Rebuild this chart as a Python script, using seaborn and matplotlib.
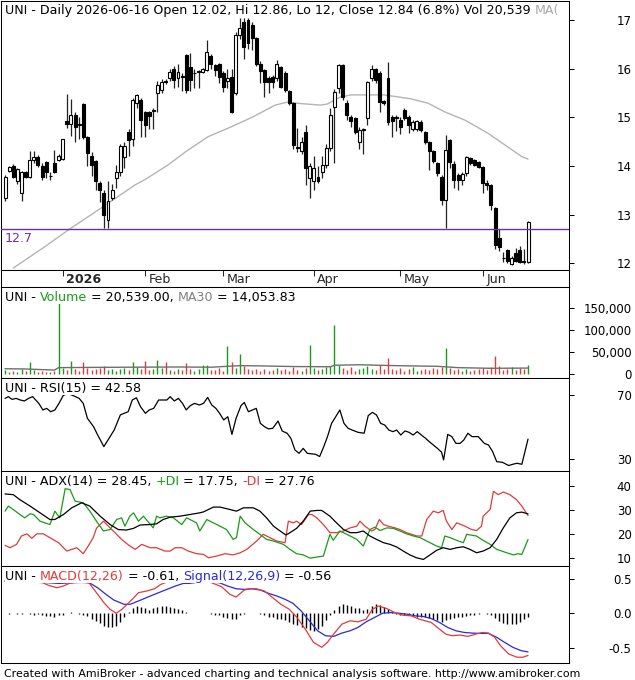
import numpy as np
import pandas as pd
import seaborn as sns
import matplotlib
matplotlib.use("Agg")
import matplotlib.pyplot as plt
from matplotlib import transforms

# trading days shown (Dec 2025 - Jun 2026), exchange holidays removed
dates = pd.bdate_range("2025-12-11", "2026-06-16")
holidays = pd.to_datetime(["2025-12-25", "2026-01-01", "2026-01-19",
                           "2026-02-16", "2026-04-03", "2026-05-25"])
dates = dates[~dates.isin(holidays)]

# daily OHLC
opens = [13.34, 13.90, 14.00, 13.68, 13.45, 13.88, 13.78, 14.12, 14.19, 14.00,
         14.08, 13.79, 14.05, 14.12, 14.15, 14.92, 14.86, 15.05, 14.86, 15.28,
         14.60, 14.20, 14.10, 13.65, 13.44, 12.89, 13.33, 13.75, 13.88, 14.19,
         14.70, 14.55, 15.30, 15.35, 15.10, 15.10, 15.13, 15.49, 15.56, 15.75,
         15.80, 16.00, 15.80, 15.85, 16.27, 16.04, 15.90, 15.93, 15.93, 15.98,
         16.25, 16.07, 16.10, 15.90, 15.74, 15.83, 15.50, 16.70, 16.95, 17.00,
         16.90, 16.62, 16.10, 15.97, 15.80, 15.83, 15.80, 16.03, 15.90, 15.54,
         15.29, 14.38, 14.30, 14.70, 13.75, 13.68, 13.78, 13.88, 14.02, 14.36,
         15.22, 15.60, 16.07, 15.30, 15.00, 14.98, 14.50, 14.74, 14.98, 15.80,
         16.00, 15.90, 15.33, 15.80, 15.00, 15.00, 14.95, 15.15, 15.00, 14.75,
         14.75, 14.90, 14.70, 14.50, 14.30, 14.05, 13.78, 13.30, 14.53, 14.04,
         13.82, 13.70, 13.85, 14.16, 14.12, 14.08, 13.98, 13.64, 13.60, 13.13,
         12.52, 12.11, 12.28, 11.98, 12.20, 12.28, 12.05, 12.02]
highs = [13.81, 14.00, 14.03, 13.96, 13.90, 13.90, 14.30, 14.30, 14.22, 14.05,
         14.10, 13.88, 14.33, 14.25, 14.56, 15.47, 15.38, 15.10, 15.00, 15.30,
         14.62, 14.28, 14.12, 13.68, 13.50, 13.68, 13.62, 14.02, 14.45, 14.50,
         14.75, 15.40, 15.47, 15.40, 15.12, 15.12, 15.20, 15.75, 15.78, 15.78,
         16.00, 16.05, 16.10, 15.90, 16.30, 16.33, 16.00, 15.98, 16.02, 16.59,
         16.30, 16.10, 16.12, 15.95, 16.00, 16.00, 16.75, 17.05, 17.05, 17.05,
         16.95, 16.65, 16.15, 16.00, 15.85, 15.86, 16.17, 16.05, 15.95, 15.57,
         15.32, 14.78, 14.60, 14.85, 14.05, 14.20, 14.00, 14.20, 14.45, 15.20,
         15.58, 16.10, 16.10, 15.35, 15.05, 15.00, 14.80, 14.78, 15.75, 16.08,
         16.02, 15.95, 15.35, 16.14, 15.05, 15.05, 15.00, 15.20, 15.05, 14.95,
         14.95, 14.95, 14.72, 14.52, 14.32, 14.08, 13.82, 14.64, 14.56, 14.10,
         13.85, 13.88, 14.20, 14.18, 14.15, 14.10, 14.00, 13.70, 13.62, 13.15,
         12.70, 12.22, 12.30, 12.15, 12.32, 12.35, 12.30, 12.86]
lows = [13.27, 13.88, 13.76, 13.62, 13.27, 13.75, 13.75, 14.05, 13.98, 13.72,
        13.75, 13.72, 13.85, 14.10, 14.12, 14.77, 14.62, 14.50, 14.55, 14.55,
        14.00, 13.80, 13.50, 13.26, 12.72, 12.72, 13.30, 13.55, 13.80, 13.95,
        14.20, 14.40, 15.20, 14.60, 14.60, 14.75, 14.75, 15.10, 15.50, 15.68,
        15.75, 15.60, 15.62, 15.55, 15.50, 15.55, 15.60, 15.60, 15.90, 15.95,
        16.00, 15.85, 15.70, 15.52, 15.60, 15.08, 15.45, 16.60, 16.20, 16.40,
        16.38, 16.05, 15.70, 15.42, 15.50, 15.60, 15.75, 15.60, 15.52, 15.25,
        14.35, 14.28, 14.25, 13.60, 13.33, 13.50, 13.65, 13.75, 13.95, 14.30,
        14.05, 15.50, 15.35, 14.95, 14.80, 14.65, 14.35, 14.25, 14.85, 15.75,
        15.70, 15.10, 15.25, 14.85, 14.60, 14.72, 14.65, 14.95, 14.68, 14.72,
        14.72, 14.70, 14.45, 13.92, 14.05, 13.80, 13.20, 12.72, 13.95, 13.55,
        13.50, 13.60, 13.80, 14.02, 14.00, 13.95, 13.44, 13.50, 13.10, 12.30,
        12.25, 12.02, 12.00, 11.96, 12.02, 12.00, 11.99, 12.00]
closes = [13.78, 13.98, 13.78, 13.94, 13.88, 13.78, 14.12, 14.19, 14.02, 13.78,
          13.88, 13.80, 13.88, 14.20, 14.55, 14.86, 15.05, 14.80, 14.85, 14.60,
          14.26, 14.02, 13.68, 13.50, 12.99, 13.27, 13.50, 13.88, 14.40, 14.40,
          14.53, 15.35, 15.46, 14.95, 14.84, 15.02, 15.15, 15.66, 15.73, 15.72,
          15.94, 15.77, 15.94, 15.83, 15.56, 15.77, 15.92, 15.94, 16.00, 16.35,
          16.10, 15.98, 15.83, 15.63, 15.80, 15.10, 16.70, 16.83, 16.45, 16.52,
          16.62, 16.10, 15.95, 15.73, 15.73, 15.72, 16.10, 15.63, 15.56, 15.29,
          14.43, 14.36, 14.50, 13.95, 13.99, 13.95, 13.68, 14.02, 14.36, 15.05,
          15.52, 16.07, 15.42, 15.05, 14.92, 14.70, 14.74, 14.75, 15.72, 16.00,
          15.77, 15.32, 15.30, 14.91, 14.92, 14.98, 14.80, 14.98, 14.85, 14.90,
          14.92, 14.74, 14.50, 14.30, 14.10, 13.85, 13.30, 14.33, 14.09, 13.72,
          13.72, 13.83, 14.18, 14.06, 14.02, 13.98, 13.64, 13.60, 13.20, 12.38,
          12.34, 12.10, 12.04, 12.10, 12.04, 12.03, 12.02, 12.84]

# gray moving average on the price pane (bar position, value)
ma_x = [2, 9, 16, 21, 25.5, 31.6, 34, 39.6, 44, 49.3, 55.1, 60, 65.6, 68.5, 72,
        76.5, 78.2, 81.3, 84, 92, 98.5, 102.7, 106.8, 111.7, 117.3, 121.4, 125.5, 127]
ma_v = [11.9, 12.3, 12.72, 13.0, 13.26, 13.61, 13.72, 14.02, 14.3, 14.6, 14.81, 15.0,
        15.25, 15.31, 15.28, 15.25, 15.27, 15.41, 15.46, 15.46, 15.38, 15.29, 15.11,
        14.94, 14.67, 14.43, 14.19, 14.14]
support = 12.7

# volume, thousands of shares
volume_k = [9, 6, 8, 5, 12, 7, 28, 9, 6, 8, 5, 4, 8,
            165,
            14, 10, 30, 12, 8, 27, 15, 9, 12, 14, 18, 10, 13, 8, 11, 15, 9, 28, 16,
            12, 30, 9, 11, 32, 14, 27, 10, 8, 12, 9, 26, 11, 7, 13, 22, 22, 9, 10, 14, 8,
            65, 28, 15, 47, 18, 12, 9,
            11, 8, 13, 7, 10, 15, 9, 12, 8, 16, 10, 7, 14,
            67,
            14, 9, 12, 16, 19,
            112,
            20, 14, 10, 16, 8, 12, 15, 18, 13, 9, 20, 11,
            38,
            12, 9, 15, 8, 11, 17, 7, 10, 13, 9, 14, 12, 16,
            60,
            14, 9, 11, 7, 13, 8, 10, 12, 15, 9, 16,
            42,
            18, 10, 12, 17, 9, 15, 13,
            20.539]
vma_x = [0, 5, 9, 12, 13, 20, 30, 42, 50, 54, 57, 62, 70, 79, 80, 86, 95, 105, 110, 118, 127]
vma_v = [12500, 12000, 10500, 9500, 15000, 15500, 16000, 16500, 16000, 18000, 19500,
         19000, 17500, 17000, 20500, 21500, 19500, 18000, 15000, 13500, 14054]

# RSI(15)
rsi_x = [0, 0.8, 1.7, 2.7, 3.7, 4.7, 5.7, 6.7, 8.2, 9.2,
         10.1, 11.1, 12.1, 13.1, 14.1, 15.1, 16.6, 18.0, 19.0, 20.0,
         21.5, 22.5, 24.0, 25.0, 26.5, 28.0, 28.9, 29.9, 30.9, 31.9,
         32.9, 34.1, 35.0, 36.1, 37.3, 39.3, 40.1, 41.1, 42.1, 43.1,
         44.0, 45.0, 46.0, 47.2, 48.2, 49.2, 50.2, 51.2, 52.1, 53.1,
         54.1, 55.1, 56.1, 57.3, 58.1, 59.1, 61.0, 62.0, 63.0, 64.0,
         65.0, 66.3, 67.3, 68.5, 69.4, 70.4, 71.4, 72.4, 73.4, 75.4,
         76.4, 77.4, 78.3, 79.3, 80.3, 81.3, 82.3, 83.3, 84.3, 85.7,
         87.2, 88.2, 89.2, 90.2, 91.2, 92.2, 93.2, 94.2, 95.1, 96.1,
         97.1, 98.1, 99.1, 100.1, 101.1, 102.1, 103.0, 104.0, 105.0, 106.0,
         106.5, 107.5, 108.5, 109.5, 110.5, 111.4, 112.4, 113.4, 114.9, 116.4,
         117.4, 118.4, 119.4, 120.8, 122.3, 123.3, 124.3, 125.5, 127]
rsi_v = [67.9, 69.0, 67.3, 67.9, 66.9, 66.3, 67.9, 69.0, 64.8, 60.7,
         61.7, 59.6, 60.7, 64.8, 69.6, 71.0, 69.6, 67.9, 64.8, 55.5,
         50.3, 45.1, 37.9, 42.0, 48.2, 57.6, 58.6, 59.6, 66.9, 68.3,
         62.7, 58.6, 60.7, 61.7, 66.9, 66.9, 69.0, 66.3, 67.9, 64.8,
         60.7, 63.4, 64.8, 63.8, 64.8, 68.5, 63.8, 61.7, 58.6, 54.5,
         56.5, 45.5, 55.5, 63.4, 65.4, 59.6, 61.7, 52.4, 50.3, 48.9,
         49.3, 53.8, 47.6, 46.2, 43.1, 35.8, 33.7, 36.8, 33.7, 33.1,
         31.7, 37.9, 44.1, 52.4, 56.5, 60.7, 52.4, 49.3, 48.2, 46.8,
         46.2, 57.2, 59.2, 57.6, 52.4, 51.3, 48.2, 47.2, 48.2, 45.1,
         47.6, 46.8, 45.1, 47.2, 45.1, 43.1, 41.0, 38.9, 36.8, 34.4,
         29.6, 45.5, 44.1, 39.9, 39.9, 42.0, 46.2, 44.1, 44.1, 39.9,
         38.9, 34.8, 28.5, 28.1, 26.1, 26.9, 27.5, 26.9, 42.58]

# ADX(14), +DI, -DI
adx_x = [0, 2.0, 3.6, 6.1, 8.5, 10.9, 12.1, 14.2, 16.2, 18.6,
         20.6, 23.1, 25.5, 27.5, 29.5, 31.2, 32.8, 35.2, 36.8, 38.4,
         40.1, 42.5, 44.9, 47.3, 48.2, 50.6, 52.2, 54.6, 56.2, 57.9,
         60.3, 61.9, 63.5, 65.2, 66.8, 68.2, 69.2, 70.8, 72.4, 74.1,
         75.7, 76.9, 78.9, 80.5, 82.2, 83.8, 85.4, 87.0, 88.6, 90.2,
         91.9, 93.5, 95.1, 96.7, 98.3, 99.9, 101.6, 103.2, 104.8, 106.4,
         108.1, 109.7, 111.3, 112.9, 114.5, 116.1, 117.8, 119.4, 121.0, 122.6,
         124.2, 125.5, 127]
adx_v = [36.8, 36.5, 34.4, 31.7, 28.9, 26.1, 26.1, 28.2, 31.0, 33.1,
         31.7, 27.5, 24.0, 21.9, 21.7, 22.4, 23.8, 24.0, 24.3, 26.1,
         27.1, 27.5, 28.2, 28.9, 29.3, 31.3, 31.3, 30.3, 29.6, 31.0,
         31.0, 29.6, 26.8, 23.3, 21.3, 19.6, 20.6, 22.4, 25.4, 29.6,
         29.9, 29.9, 27.5, 24.7, 21.9, 20.6, 20.6, 21.3, 19.2, 17.8,
         16.4, 15.7, 14.6, 12.9, 11.3, 10.1, 9.4, 11.3, 13.2, 14.3,
         13.6, 14.3, 14.7, 13.6, 12.2, 12.9, 14.3, 17.8, 22.6, 26.8,
         28.9, 29.2, 28.45]
pdi_x = [0, 0.8, 2.0, 3.6, 4.8, 6.1, 6.9, 8.5, 10.9, 12.1,
         13.3, 14.6, 15.8, 17.0, 19.0, 20.6, 22.2, 23.9, 25.5, 27.1,
         28.3, 29.1, 30.3, 31.2, 32.4, 33.6, 36.0, 36.8, 37.6, 39.2,
         40.9, 42.9, 44.1, 46.5, 47.3, 49.0, 50.6, 52.2, 53.8, 55.4,
         56.2, 57.1, 58.3, 60.3, 61.9, 63.5, 65.2, 67.6, 69.2, 70.8,
         72.4, 74.1, 75.7, 77.3, 78.9, 79.7, 81.3, 83.0, 85.4, 87.0,
         88.6, 89.8, 91.1, 92.7, 94.3, 95.9, 97.5, 99.2, 100.8, 102.4,
         104.8, 106.0, 106.8, 108.1, 110.1, 111.3, 112.1, 114.5, 115.7, 117.8,
         119.4, 121.8, 123.4, 124.6, 125.5, 127]
pdi_v = [29.6, 31.7, 30.3, 28.2, 26.8, 28.5, 28.2, 25.4, 24.0, 29.6,
         26.8, 39.0, 38.6, 33.8, 33.1, 29.6, 25.4, 21.3, 21.9, 26.1,
         26.8, 23.3, 27.5, 28.9, 25.4, 27.5, 22.6, 27.5, 26.8, 27.5,
         26.8, 24.0, 26.8, 24.7, 21.3, 26.1, 24.7, 23.3, 21.9, 17.8,
         18.5, 27.5, 24.7, 21.9, 19.9, 17.8, 17.1, 15.7, 13.6, 11.8,
         11.3, 9.9, 10.4, 10.8, 19.9, 17.4, 21.3, 19.9, 17.8, 15.0,
         21.9, 22.9, 21.5, 22.6, 22.4, 21.3, 20.1, 19.2, 18.5, 17.1,
         15.0, 14.3, 19.2, 18.5, 17.1, 16.4, 19.9, 19.2, 17.8, 15.7,
         13.6, 12.2, 11.3, 11.8, 11.5, 17.75]
mdi_x = [0, 1.2, 2.8, 4.0, 5.3, 6.5, 7.7, 9.3, 10.9, 13.0,
         15.0, 16.2, 17.4, 19.0, 20.2, 21.4, 22.2, 23.1, 23.9, 25.1,
         26.7, 28.3, 30.0, 31.6, 33.2, 35.2, 36.8, 38.8, 40.1, 41.3,
         42.9, 44.5, 46.5, 48.2, 49.4, 51.4, 53.4, 55.4, 57.1, 58.7,
         61.1, 62.7, 64.3, 66.0, 68.0, 68.8, 70.0, 70.8, 72.0, 73.7,
         74.5, 75.7, 77.3, 78.9, 80.5, 82.2, 83.8, 85.4, 86.2, 87.4,
         89.0, 89.8, 90.9, 91.9, 93.1, 94.7, 95.9, 97.5, 100.0, 101.2,
         102.4, 104.0, 105.2, 106.4, 107.2, 108.5, 109.7, 111.7, 113.3, 114.5,
         115.7, 116.1, 117.8, 118.6, 119.8, 121.0, 122.6, 124.2, 125.5, 127]
mdi_v = [15.3, 14.3, 15.7, 19.2, 20.1, 18.2, 20.1, 20.1, 18.5, 16.4,
         12.9, 13.6, 14.3, 11.8, 15.0, 18.5, 22.4, 24.0, 25.4, 23.3,
         20.6, 17.8, 15.4, 13.6, 15.7, 14.3, 14.3, 12.9, 12.9, 14.3,
         14.3, 12.9, 11.8, 11.5, 10.1, 10.8, 11.8, 11.3, 12.2, 13.6,
         17.1, 19.9, 18.5, 17.1, 16.4, 25.4, 24.7, 25.4, 24.0, 28.2,
         28.2, 26.8, 24.0, 20.6, 20.6, 21.3, 22.6, 23.3, 25.4, 23.3,
         21.3, 21.9, 26.1, 24.0, 23.3, 22.6, 21.9, 20.6, 19.2, 19.2,
         26.1, 29.6, 28.9, 29.9, 25.4, 21.9, 24.7, 23.3, 21.9, 21.5,
         23.3, 27.5, 30.3, 37.9, 36.5, 37.6, 36.5, 34.4, 31.7, 27.76]

# MACD(12,26), Signal(12,26,9), histogram per bar
macd_x = [0, 3, 6, 9.2, 10.6, 12.6, 14.1, 15.6, 17.3, 19.0,
          20.5, 22.5, 24.0, 25.5, 27.0, 28.4, 29.9, 30.9, 32.4, 34.4,
          36.3, 37.8, 38.8, 42.3, 45.2, 48.2, 50.2, 52.6, 54.6, 56.1,
          58.1, 59.6, 61.0, 63.0, 65.0, 67.0, 69.0, 70.9, 72.9, 74.9,
          76.9, 78.3, 79.8, 81.8, 83.8, 85.7, 87.7, 89.2, 90.7, 92.7,
          94.6, 96.6, 98.6, 100.6, 103.5, 105.5, 107.0, 108.5, 110.5, 112.4,
          114.4, 115.9, 117.4, 118.9, 120.3, 122.3, 124.3, 125.8, 127]
macd_v = [0.47, 0.48, 0.46, 0.440, 0.402, 0.368, 0.392, 0.431, 0.45, 0.46,
          0.431, 0.273, 0.153, 0.057, 0.0, 0.057, 0.144, 0.201, 0.297, 0.321,
          0.354, 0.416, 0.440, 0.512, 0.536, 0.488, 0.440, 0.383, 0.273, 0.234,
          0.335, 0.354, 0.354, 0.321, 0.225, 0.129, 0.057, -0.062, -0.230, -0.421,
          -0.493, -0.421, -0.301, -0.158, -0.110, -0.124, -0.086, 0.057, 0.105, 0.067,
          0.010, -0.029, -0.038, -0.086, -0.134, -0.230, -0.301, -0.325, -0.316, -0.335,
          -0.301, -0.278, -0.287, -0.349, -0.469, -0.589, -0.636, -0.636, -0.61]
sig_x = [0, 4, 8, 13.1, 16.1, 18.5, 20.5, 22.5, 24.5, 26.4,
         28.9, 30.4, 32.4, 35.3, 38.3, 41.3, 43.3, 44.7, 48.2, 52.1,
         54.1, 56.1, 58.1, 60.0, 62.0, 64.0, 66.0, 68.0, 69.9, 71.9,
         73.9, 75.9, 77.8, 79.8, 81.8, 83.8, 85.7, 87.7, 89.7, 91.7,
         93.7, 95.6, 97.6, 99.6, 101.6, 103.5, 105.5, 107.5, 109.5, 111.5,
         113.4, 115.4, 117.4, 119.4, 121.3, 123.3, 125.3, 127]
sig_v = [0.46, 0.46, 0.45, 0.431, 0.440, 0.445, 0.440, 0.368, 0.273, 0.191,
         0.129, 0.129, 0.177, 0.249, 0.321, 0.392, 0.431, 0.431, 0.46, 0.440,
         0.392, 0.354, 0.345, 0.354, 0.335, 0.287, 0.249, 0.201, 0.144, 0.033,
         -0.110, -0.254, -0.325, -0.335, -0.287, -0.254, -0.206, -0.124, -0.062, 0.0,
         0.010, 0.0, -0.014, -0.038, -0.048, -0.077, -0.134, -0.206, -0.254, -0.278,
         -0.287, -0.292, -0.292, -0.349, -0.421, -0.493, -0.541, -0.56]
hist = [0.005, -0.01, 0.005, -0.01, -0.01, 0.005, -0.01, -0.02, -0.01,
        -0.03, -0.04, -0.04, -0.05, -0.03, -0.02, 0.01, 0.02, 0.01, -0.005, -0.02,
        -0.04, -0.08, -0.11, -0.14, -0.18, -0.2, -0.2, -0.18, -0.12, -0.05,
        0.02, 0.07, 0.1, 0.09, 0.07, 0.05, 0.07, 0.09, 0.1, 0.1,
        0.09, 0.08, 0.06, 0.04, 0.02, 0.01, 0.005, 0.0, 0.01, 0.005,
        -0.01, -0.02, -0.03, -0.05, -0.07, -0.09, -0.08, -0.03, -0.01, 0.005,
        0.01, 0.005, -0.01, -0.03, -0.05, -0.06, -0.08, -0.09, -0.1, -0.12,
        -0.15, -0.17, -0.2, -0.22, -0.24, -0.25, -0.23, -0.18, -0.1, -0.03,
        0.04, 0.1, 0.13, 0.12, 0.1, 0.08, 0.07, 0.05, 0.06, 0.1,
        0.13, 0.12, 0.09, 0.06, 0.02, -0.01, -0.02, -0.03, -0.03, -0.04,
        -0.05, -0.05, -0.06, -0.07, -0.08, -0.1, -0.12, -0.1, -0.08, -0.07,
        -0.05, -0.05, -0.04, -0.03, -0.02, -0.01, 0.01, -0.005, -0.03, -0.07,
        -0.11, -0.14, -0.16, -0.16, -0.15, -0.12, -0.09, -0.05]

# ---------------------------------------------------------------------------
sns.set_style("white")
plt.rcParams["font.family"] = ["DejaVu Sans"]
FS = 8.5      # axis labels
TFS = 9.1     # pane titles

W, H = 635, 680
fig = plt.figure(figsize=(W / 100, H / 100), dpi=100)
XL = (-0.98, 136.95)
GREEN, RED, BLUE, PURPLE = "#1a9a1a", "#e23a3a", "#2a2ad8", "#7030a0"

idx = np.arange(len(closes))
o, h, l, c = map(np.array, (opens, highs, lows, closes))
up = c >= o


def rect(left, top, right, bottom):
    return [left / W, 1 - bottom / H, (right - left) / W, (bottom - top) / H]


def panel(box, ylim, ticks, labels):
    ax = fig.add_axes(rect(*box))
    ax.set_xlim(XL)
    ax.set_ylim(ylim)
    for s in ax.spines.values():
        s.set_visible(True)
        s.set_color("black")
        s.set_linewidth(0.75)
    ax.set_xticks([])
    ax.yaxis.tick_right()
    ax.set_yticks(ticks)
    ax.set_yticklabels(labels)
    ax.tick_params(axis="y", right=True, direction="out", length=3.6, width=0.75,
                   pad=41.5, labelsize=FS, colors="black")
    plt.setp(ax.get_yticklabels(), ha="right")
    return ax


def title(ax, parts, down=4):
    r = fig.canvas.get_renderer()
    bb = ax.get_window_extent(r)
    x, y = bb.x0 + 4, bb.y1 - down
    inv = ax.transAxes.inverted()
    for s, col in parts:
        xa, ya = inv.transform((x, y))
        t = ax.text(xa, ya, s, transform=ax.transAxes, color=col, fontsize=TFS,
                    va="top", ha="left", zorder=10, clip_on=True,
                    bbox=dict(fc="white", ec="none", pad=0.3))
        x = t.get_window_extent(r).x1


# price pane
ax1 = panel((1, 1, 569, 270), (11.86, 17.39), [12, 13, 14, 15, 16, 17],
            ["12", "13", "14", "15", "16", "17"])
sns.lineplot(x=ma_x, y=ma_v, ax=ax1, color="#b4b4b4", lw=1, estimator=None, sort=False)
ax1.vlines(idx, l, h, color="#222222", lw=0.9, zorder=2)
ax1.bar(idx, np.maximum(np.abs(c - o), 0.012), bottom=np.minimum(o, c), width=0.72,
        color=np.where(up, "white", "black"), edgecolor="black", linewidth=0.8, zorder=3)
ax1.axhline(support, color=PURPLE, lw=1.0, zorder=4)
ax1.text(0.006, support, f"{support}", color=PURPLE, fontsize=TFS, va="top",
         transform=transforms.offset_copy(ax1.get_yaxis_transform(), fig=fig, y=-2, units="points"))
title(ax1, [("UNI - Daily 2026-06-16 Open 12.02, Hi 12.86, Lo 12, Close 12.84 (6.8%) Vol 20,539 ", "black"),
            ("MA(", "#a8a8a8")], down=3)

# date strip
axd = fig.add_axes(rect(1, 270, 569, 287))
axd.set_xlim(XL)
axd.set_yticks([])
for s in axd.spines.values():
    s.set_visible(True)
    s.set_color("black")
    s.set_linewidth(0.75)
starts = [i for i in range(1, len(dates)) if dates[i].month != dates[i - 1].month]
axd.set_xticks(starts)
axd.set_xticklabels([])
axd.tick_params(axis="x", top=True, bottom=False, direction="in", length=4.3, width=0.75)
lab_tr = transforms.offset_copy(axd.get_xaxis_transform(), fig=fig, x=2.5, units="points")
for i in starts:
    d = dates[i]
    axd.text(i, 0.42, str(d.year) if d.month == 1 else d.strftime("%b"), transform=lab_tr,
             fontsize=TFS, va="center", ha="left",
             fontweight="bold" if d.month == 1 else "normal")

# volume pane
vol = np.array(volume_k) * 1000
ax2 = panel((1, 287, 569, 378), (-8500, 198000), [0, 50000, 100000, 150000],
            ["0", "50,000", "100,000", "150,000"])
ax2.vlines(idx, 0, vol, colors=np.where(up, GREEN, RED), lw=1.0)
sns.lineplot(x=vma_x, y=vma_v, ax=ax2, color="#6e6e6e", lw=1, estimator=None, sort=False)
title(ax2, [("UNI - ", "black"), ("Volume", GREEN), (" = 20,539.00, ", "black"),
            ("MA30", "#808080"), (" = 14,053.83", "black")])

# RSI pane
ax3 = panel((1, 378, 569, 471), (22.7, 80.6), [30, 70], ["30", "70"])
sns.lineplot(x=rsi_x, y=rsi_v, ax=ax3, color="black", lw=0.9, estimator=None, sort=False)
title(ax3, [("UNI - RSI(15) = 42.58", "black")])

# ADX pane
ax4 = panel((1, 471, 569, 566), (6.65, 46.4), [10, 20, 30, 40], ["10", "20", "30", "40"])
sns.lineplot(x=mdi_x, y=mdi_v, ax=ax4, color=RED, lw=0.9, estimator=None, sort=False)
sns.lineplot(x=pdi_x, y=pdi_v, ax=ax4, color=GREEN, lw=0.9, estimator=None, sort=False)
sns.lineplot(x=adx_x, y=adx_v, ax=ax4, color="black", lw=0.9, estimator=None, sort=False)
title(ax4, [("UNI - ADX(14) = 28.45, ", "black"), ("+DI", GREEN), (" = 17.75, ", "black"),
            ("-DI", RED), (" = 27.76", "black")])

# MACD pane
ax5 = panel((1, 566, 569, 663), (-0.72, 0.683), [-0.5, 0.0, 0.5], ["-0.5", "0.0", "0.5"])
ax5.vlines(idx, 0, hist, color="black", lw=1.0)
sns.lineplot(x=sig_x, y=sig_v, ax=ax5, color=BLUE, lw=0.9, estimator=None, sort=False)
sns.lineplot(x=macd_x, y=macd_v, ax=ax5, color=RED, lw=0.9, estimator=None, sort=False)
title(ax5, [("UNI - ", "black"), ("MACD(12,26)", RED), (" = -0.61, ", "black"),
            ("Signal(12,26,9)", BLUE), (" = -0.56", "black")])

for ax in (ax1, ax2, ax3, ax4, ax5):
    ax.set_xlabel("")
    ax.set_ylabel("")

fig.text(4 / W, 1 - 674 / H,
         "Created with AmiBroker - advanced charting and technical analysis software. http://www.amibroker.com",
         fontsize=7.9, va="center", ha="left", color="black")

fig.savefig("out.png", dpi=100, facecolor="white")
